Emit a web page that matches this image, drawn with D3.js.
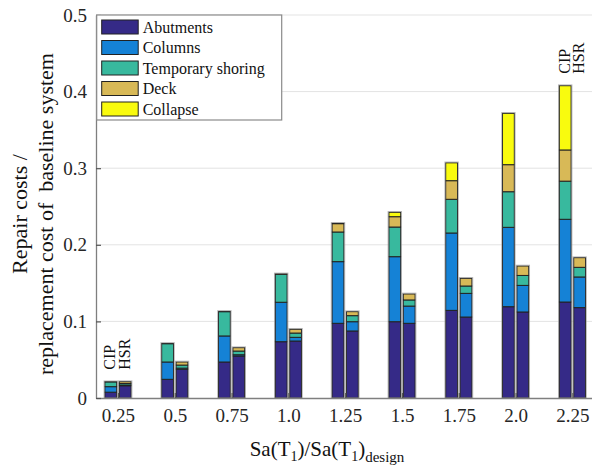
<!DOCTYPE html>
<html>
<head>
<meta charset="utf-8">
<script src="https://cdn.jsdelivr.net/npm/d3@7/dist/d3.min.js"></script>
<style>
  html, body { margin: 0; padding: 0; background: #fff; }
  svg { display: block; }
  text { font-family: "Liberation Serif", "Times New Roman", serif; }
</style>
</head>
<body>
<svg id="chart" width="592" height="476"></svg>
<script>
// Ground-motion intensity levels (x categories)
const categories = ["0.25", "0.5", "0.75", "1.0", "1.25", "1.5", "1.75", "2.0", "2.25"];
const systems = ["CIP", "HSR"];
const components = ["Abutments", "Columns", "Temporary shoring", "Deck", "Collapse"];
const componentColors = ["#352a87", "#1582d6", "#38b99e", "#d8b957", "#f9fb0e"];

// Repair-cost ratio contributed by each component, cast-in-place system
const cipAbutments = [0.0076, 0.0244, 0.0470, 0.0735, 0.0975, 0.0996, 0.1144, 0.1192, 0.1253];
const cipColumns   = [0.0072, 0.0226, 0.0340, 0.0515, 0.0805, 0.0849, 0.1010, 0.1036, 0.1080];
const cipShoring   = [0.0062, 0.0239, 0.0317, 0.0365, 0.0387, 0.0387, 0.0440, 0.0465, 0.0498];
const cipDeck      = [0.0002, 0.0003, 0.0003, 0.0005, 0.0109, 0.0135, 0.0243, 0.0353, 0.0407];
const cipCollapse  = [0.0000, 0.0000, 0.0000, 0.0000, 0.0004, 0.0057, 0.0233, 0.0670, 0.0839];

// Repair-cost ratio contributed by each component, HSR system
const hsrAbutments = [0.0160, 0.0374, 0.0548, 0.0744, 0.0875, 0.0975, 0.1057, 0.1123, 0.1180];
const hsrColumns   = [0.0010, 0.0016, 0.0017, 0.0048, 0.0121, 0.0225, 0.0309, 0.0347, 0.0400];
const hsrShoring   = [0.0020, 0.0040, 0.0048, 0.0056, 0.0079, 0.0080, 0.0096, 0.0130, 0.0126];
const hsrDeck      = [0.0023, 0.0040, 0.0044, 0.0049, 0.0052, 0.0078, 0.0100, 0.0123, 0.0126];
const hsrCollapse  = [0, 0, 0, 0, 0, 0, 0, 0, 0];

const yTickValues = [0, 0.1, 0.2, 0.3, 0.4, 0.5];
const yTickLabels = ["0", "0.1", "0.2", "0.3", "0.4", "0.5"];

// Groups that carry the CIP / HSR annotation
const annotatedGroups = ["0.25", "2.25"];

const seriesBySystem = {
  CIP: [cipAbutments, cipColumns, cipShoring, cipDeck, cipCollapse],
  HSR: [hsrAbutments, hsrColumns, hsrShoring, hsrDeck, hsrCollapse]
};

const rowsFor = sys => categories.map((c, i) => {
  const row = { category: c };
  components.forEach((k, j) => { row[k] = seriesBySystem[sys][j][i]; });
  return row;
});

const svg = d3.select("#chart");
const plot = { left: 96, right: 594.4, top: 15, bottom: 398 };

const x = d3.scaleLinear().domain([-0.387, categories.length - 1 + 0.387]).range([plot.left, plot.right]);
const xSub = d3.scaleBand().domain(systems).range([-13.1, 13.1]).paddingInner(0.18).paddingOuter(0);
const y = d3.scaleLinear().domain([0, 0.5]).range([plot.bottom, plot.top]);
const color = d3.scaleOrdinal().domain(components).range(componentColors);

// Horizontal grid
svg.append("g").selectAll("line")
  .data(yTickValues.filter(v => v > 0))
  .join("line")
  .attr("x1", plot.left).attr("x2", plot.right)
  .attr("y1", d => y(d)).attr("y2", d => y(d))
  .attr("stroke", "#e3e3e3").attr("stroke-width", 1);

// Stacked bars
const stack = d3.stack().keys(components);
systems.forEach(sys => {
  const layers = stack(rowsFor(sys));
  const g = svg.append("g").attr("class", "bars-" + sys);
  layers.forEach(layer => {
    g.selectAll(null)
      .data(layer)
      .join("rect")
      .attr("x", (d, i) => x(i) + xSub(sys))
      .attr("width", xSub.bandwidth())
      .attr("y", d => y(d[1]))
      .attr("height", d => Math.max(0, y(d[0]) - y(d[1])))
      .attr("fill", color(layer.key))
      .attr("stroke", "#222")
      .attr("stroke-width", 1);
  });
  // soft outline around each whole bar
  g.selectAll(null)
    .data(layers[layers.length - 1])
    .join("rect")
    .attr("x", (d, i) => x(i) + xSub(sys) - 0.8)
    .attr("width", xSub.bandwidth() + 1.6)
    .attr("y", d => y(d[1]) - 0.8)
    .attr("height", d => y(0) - y(d[1]) + 0.8)
    .attr("fill", "none")
    .attr("stroke", "#9a9a9a")
    .attr("stroke-opacity", 0.7)
    .attr("stroke-width", 1);
});

// Axes
const xAxis = d3.axisBottom(x)
  .tickValues(d3.range(categories.length))
  .tickFormat(i => categories[i])
  .tickSizeInner(-5).tickSizeOuter(0).tickPadding(11);
const gx = svg.append("g").attr("transform", `translate(0,${plot.bottom})`).call(xAxis);

const yAxis = d3.axisLeft(y)
  .tickValues(yTickValues)
  .tickFormat((d, i) => yTickLabels[i])
  .tickSizeInner(-5).tickSizeOuter(0).tickPadding(9);
const gy = svg.append("g").attr("transform", `translate(${plot.left},0)`).call(yAxis);

[gx, gy].forEach(g => {
  g.select(".domain").attr("stroke", "#7f7f7f").attr("stroke-width", 1.3);
  g.selectAll(".tick line").attr("stroke", "#555").attr("stroke-width", 1.2);
  g.selectAll(".tick text").attr("fill", "#262626").style("font-size", "19px")
    .style("font-family", '"Liberation Serif", "Times New Roman", serif');
});

// CIP / HSR annotations above selected groups
annotatedGroups.forEach(cat => {
  const i = categories.indexOf(cat);
  const top = d3.max(systems, s => d3.sum(seriesBySystem[s], arr => arr[i]));
  systems.forEach(sys => {
    const cx = x(i) + xSub(sys) + xSub.bandwidth() / 2 + 4.5;
    svg.append("text")
      .attr("transform", `translate(${cx},${y(top) - 12}) rotate(-90)`)
      .attr("text-anchor", "start")
      .style("font-size", "16px")
      .attr("fill", "#111")
      .text(sys);
  });
});

// Legend
const legend = svg.append("g").attr("transform", "translate(96.7,15)");
legend.append("rect").attr("width", 185).attr("height", 105)
  .attr("fill", "#fff").attr("stroke", "#8a8a8a").attr("stroke-width", 1.2);
const items = legend.selectAll("g.item").data(components).join("g")
  .attr("class", "item")
  .attr("transform", (d, i) => `translate(0,${12 + i * 20.5})`);
items.append("rect").attr("x", 5).attr("y", -7).attr("width", 36.5).attr("height", 14)
  .attr("fill", d => color(d)).attr("stroke", "#222").attr("stroke-width", 1);
items.append("text").attr("x", 46).attr("dy", "0.35em")
  .style("font-size", "16px").attr("fill", "#111").text(d => d);

// Axis titles
svg.append("text")
  .attr("transform", "translate(27,214) rotate(-90)")
  .attr("text-anchor", "middle").style("font-size", "22px").attr("fill", "#111")
  .text("Repair costs /");
svg.append("text")
  .attr("transform", "translate(53,214) rotate(-90)")
  .attr("text-anchor", "middle").style("font-size", "22px").attr("fill", "#111")
  .attr("xml:space", "preserve").style("white-space", "pre")
  .text("replacement cost of  baseline system");

const xl = svg.append("text").attr("x", 327).attr("y", 456)
  .attr("text-anchor", "middle").style("font-size", "21px").attr("fill", "#111");
xl.append("tspan").text("Sa(T");
xl.append("tspan").attr("dy", "5").style("font-size", "14px").text("1");
xl.append("tspan").attr("dy", "-5").text(")/Sa(T");
xl.append("tspan").attr("dy", "5").style("font-size", "14px").text("1");
xl.append("tspan").attr("dy", "-5").text(")");
xl.append("tspan").attr("dy", "6").style("font-size", "15px").text("design");
</script>
</body>
</html>
